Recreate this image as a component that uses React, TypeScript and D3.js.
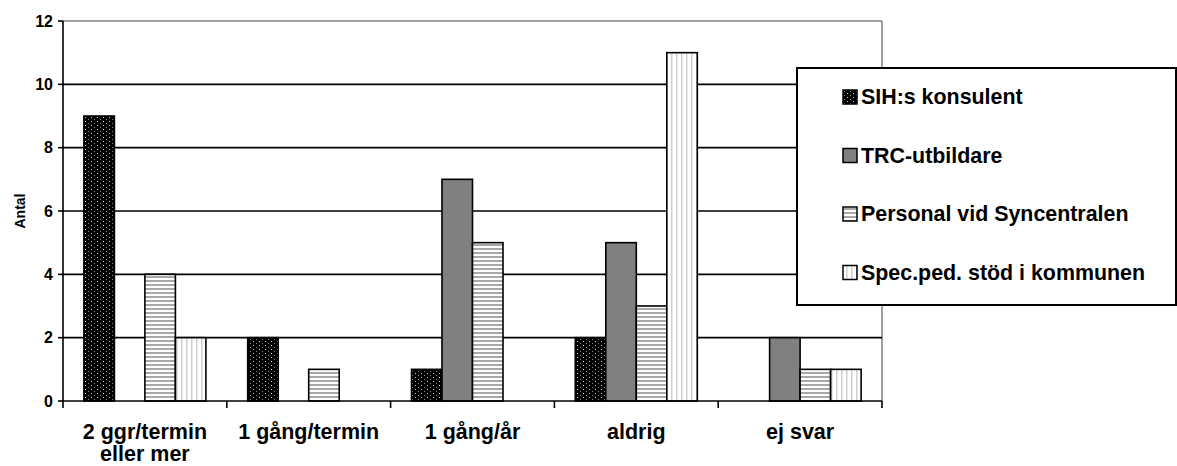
import React from "react";
import * as d3 from "d3";

const categories = ["2 ggr/termin\neller mer", "1 gång/termin", "1 gång/år", "aldrig", "ej svar"];
const seriesNames = ["SIH:s konsulent", "TRC-utbildare", "Personal vid Syncentralen", "Spec.ped. stöd i kommunen"];
const sihValues = [9, 2, 1, 2, 0];
const trcValues = [0, 0, 7, 5, 2];
const personalValues = [4, 1, 5, 3, 1];
const specValues = [2, 0, 0, 11, 1];
const yTicks = [0, 2, 4, 6, 8, 10, 12];

const seriesValues = [sihValues, trcValues, personalValues, specValues];
const fills = ["url(#pDots)", "#808080", "url(#pHoriz)", "url(#pVert)"];

const W = 1177;
const H = 466;
const left = 63;
const right = 882;
const top = 21;
const bottom = 401;
const font = "'Liberation Sans', Arial, sans-serif";

export default function App() {
  const x = d3.scaleBand<string>().domain(categories).range([left, right]).paddingInner(0).paddingOuter(0);
  const xs = d3
    .scaleBand<string>()
    .domain(seriesNames)
    .range([0, x.bandwidth()])
    .paddingInner(0)
    .paddingOuter(0.685);
  const y = d3.scaleLinear().domain([0, 12]).range([bottom, top]);

  const legendBaselines = [104, 162.5, 221, 279.5];

  return (
    <svg width={W} height={H} style={{ position: "absolute", left: 0, top: 0, background: "#fff" }} fontFamily={font}>
      <defs>
        <pattern id="pDots" width={6} height={4} patternUnits="userSpaceOnUse">
          <rect width={6} height={4} fill="#000" />
          <rect x={1} y={1} width={1} height={1} fill="#d0d0d0" />
          <rect x={4} y={3} width={1} height={1} fill="#888" />
        </pattern>
        <pattern id="pHoriz" width={4} height={4} patternUnits="userSpaceOnUse">
          <rect width={4} height={4} fill="#fff" />
          <rect y={0} width={4} height={2} fill="#a8a8a8" />
        </pattern>
        <pattern id="pVert" width={5} height={5} patternUnits="userSpaceOnUse">
          <rect width={5} height={5} fill="#fff" />
          <rect x={1} width={1.5} height={5} fill="#cfcfcf" />
        </pattern>
      </defs>

      {/* plot border top/right gray */}
      <line x1={left} x2={right} y1={top} y2={top} stroke="#808080" strokeWidth={1.5} />
      <line x1={right} x2={right} y1={top} y2={bottom} stroke="#808080" strokeWidth={1.5} />

      {/* gridlines */}
      {yTicks
        .filter((t) => t > 0 && t < 12)
        .map((t) => (
          <line key={t} x1={left} x2={right} y1={y(t)} y2={y(t)} stroke="#000" strokeWidth={1.6} />
        ))}

      {/* bars */}
      {categories.map((c, ci) =>
        seriesNames.map((s, si) => {
          const v = seriesValues[si][ci];
          if (!v) return null;
          const bx = (x(c) as number) + (xs(s) as number);
          return (
            <rect
              key={c + s}
              x={bx}
              y={y(v)}
              width={xs.bandwidth()}
              height={y(0) - y(v)}
              fill={fills[si]}
              stroke="#000"
              strokeWidth={1.6}
            />
          );
        })
      )}

      {/* y axis */}
      <line x1={left} x2={left} y1={top} y2={bottom} stroke="#000" strokeWidth={1.6} />
      {yTicks.map((t) => (
        <g key={t}>
          <line x1={left - 5} x2={left} y1={y(t)} y2={y(t)} stroke="#000" strokeWidth={1.6} />
          <text x={53} y={y(t)} dy="0.35em" textAnchor="end" fontSize={16} fontWeight="bold">
            {t}
          </text>
        </g>
      ))}
      <text
        transform={`translate(25, 211) rotate(-90)`}
        textAnchor="middle"
        fontSize={14}
        fontWeight="bold"
      >
        Antal
      </text>

      {/* x axis */}
      <line x1={left} x2={right} y1={bottom} y2={bottom} stroke="#000" strokeWidth={1.6} />
      {categories.map((c) => (
        <line key={"t" + c} x1={x(c) as number} x2={x(c) as number} y1={bottom} y2={bottom + 7} stroke="#000" strokeWidth={1.6} />
      ))}
      <line x1={right} x2={right} y1={bottom} y2={bottom + 7} stroke="#000" strokeWidth={1.6} />
      {categories.map((c) => {
        const cx = (x(c) as number) + x.bandwidth() / 2;
        return c.split("\n").map((line, li) => (
          <text key={c + li} x={cx} y={439 + li * 22} textAnchor="middle" fontSize={21.5} fontWeight="bold">
            {line}
          </text>
        ));
      })}

      {/* legend */}
      <rect x={797} y={68} width={379} height={237} fill="#fff" stroke="#000" strokeWidth={2} />
      {seriesNames.map((s, si) => (
        <g key={"lg" + s}>
          <rect x={843} y={legendBaselines[si] - 14} width={14} height={14} fill={fills[si]} stroke="#000" strokeWidth={1.5} />
          <text x={861} y={legendBaselines[si]} fontSize={21.4} fontWeight="bold">
            {s}
          </text>
        </g>
      ))}
    </svg>
  );
}
